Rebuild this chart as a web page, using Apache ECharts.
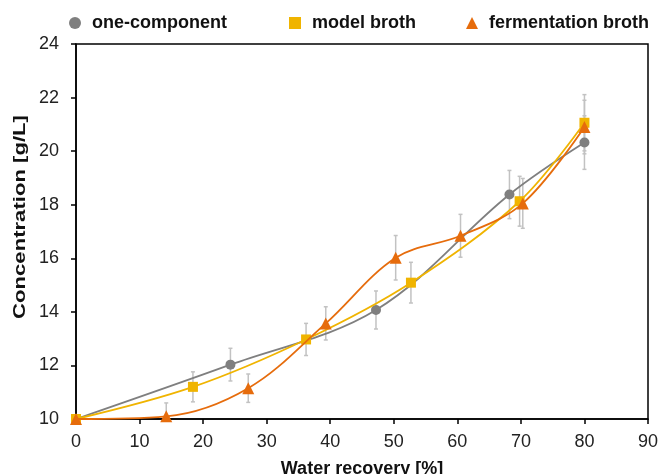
<!DOCTYPE html>
<html>
<head>
<meta charset="utf-8">
<script src="https://cdn.jsdelivr.net/npm/echarts@6/dist/echarts.min.js"></script>
<style>html,body{margin:0;padding:0;background:#fff}#c{width:660px;height:474px}</style>
</head>
<body>
<div id="c"></div>
<script>
// Data
var seriesNames = ['one-component', 'model broth', 'fermentation broth'];
var oneX   = [0, 24.3, 47.2, 68.2, 80];
var oneY   = [10, 12.03, 14.07, 18.38, 20.32];
var oneErr = [0, 0.61, 0.71, 0.9, 1.0];
var modelX   = [0, 18.4, 36.2, 52.7, 69.8, 80];
var modelY   = [10, 11.2, 12.97, 15.09, 18.13, 21.06];
var modelErr = [0, 0.56, 0.6, 0.76, 0.93, 1.05];
var fermX   = [0, 14.2, 27.1, 39.3, 50.3, 60.5, 70.3, 80];
var fermY   = [10, 10.1, 11.15, 13.57, 16.02, 16.84, 18.05, 20.9];
var fermErr = [0, 0.5, 0.53, 0.62, 0.83, 0.8, 0.93, 1.0];
var xTicks = [0, 10, 20, 30, 40, 50, 60, 70, 80, 90];
var yTicks = [10, 12, 14, 16, 18, 20, 22, 24];
var xTitle = 'Water recovery [%]';
var yTitle = 'Concentration [g/L]';

var colors = ['#7f7f7f', '#f0b400', '#e66c0c'];
var symbols = ['circle', 'rect', 'triangle'];
var FONT = 'Liberation Sans, Arial, sans-serif';

function pairs(xs, ys) { return xs.map(function (x, i) { return [x, ys[i]]; }); }
function errData(xs, ys, es) {
  var out = [];
  xs.forEach(function (x, i) { if (es[i] > 0) out.push([x, ys[i] - es[i], ys[i] + es[i]]); });
  return out;
}
function errSeries(data) {
  return {
    type: 'custom', silent: true, z: 1, clip: true,
    encode: { x: 0, y: [1, 2] },
    data: data,
    renderItem: function (params, api) {
      var lo = api.coord([api.value(0), api.value(1)]);
      var hi = api.coord([api.value(0), api.value(2)]);
      var st = { stroke: '#c2c2c2', lineWidth: 1.5 };
      return {
        type: 'group', children: [
          { type: 'line', shape: { x1: lo[0], y1: lo[1], x2: hi[0], y2: hi[1] }, style: st },
          { type: 'line', shape: { x1: lo[0] - 2, y1: lo[1], x2: lo[0] + 2, y2: lo[1] }, style: st },
          { type: 'line', shape: { x1: hi[0] - 2, y1: hi[1], x2: hi[0] + 2, y2: hi[1] }, style: st }
        ]
      };
    }
  };
}
function lineSeries(i, data) {
  return {
    name: seriesNames[i], type: 'line', data: data, smooth: 0.35, z: 3 + i,
    symbol: symbols[i], symbolSize: i === 2 ? 12 : 10,
    lineStyle: { color: colors[i], width: 1.8 },
    itemStyle: { color: colors[i] },
    emphasis: { disabled: true }
  };
}
function legend(i, left) {
  return {
    data: [{ name: seriesNames[i], icon: symbols[i] }], left: left, top: 9,
    itemWidth: 12, itemHeight: 12, itemGap: 0,
    textStyle: { fontFamily: FONT, fontSize: 18, fontWeight: 'bold', color: '#111', padding: [0, 0, 0, 6] },
    selectedMode: false
  };
}

var chart = echarts.init(document.getElementById('c'), null, { renderer: 'canvas' });
chart.setOption({
  animation: false,
  backgroundColor: '#fff',
  color: colors,
  legend: [legend(0, 64), legend(1, 284), legend(2, 461)],
  grid: { left: 76, right: 12, top: 44, bottom: 55, show: true, borderColor: '#000', borderWidth: 1.5,
    containLabel: false, outerBoundsMode: 'none' },
  graphic: [{
    type: 'text', x: 20, y: 217, rotation: Math.PI / 2, scaleX: 1.3, silent: true,
    style: { text: yTitle, align: 'center', verticalAlign: 'middle',
      font: 'bold 17px Liberation Sans, Arial, sans-serif', fill: '#111' }
  }],
  xAxis: {
    type: 'value', min: 0, max: 90, interval: 10,
    name: xTitle, nameLocation: 'middle', nameGap: 41,
    nameTextStyle: { fontFamily: FONT, fontSize: 18, fontWeight: 'bold', color: '#111' },
    axisLine: { show: true, lineStyle: { color: '#000', width: 1.5 } },
    axisTick: { show: true, length: 5, lineStyle: { color: '#000', width: 1.5 } },
    axisLabel: { fontFamily: FONT, fontSize: 18, color: '#222', margin: 14,
      formatter: function (v) { return xTicks.indexOf(v) >= 0 ? String(v) : ''; } },
    splitLine: { show: false }
  },
  yAxis: {
    type: 'value', min: 10, max: 24, interval: 2,
    axisLine: { show: true, lineStyle: { color: '#000', width: 1.5 } },
    axisTick: { show: true, length: 5, lineStyle: { color: '#000', width: 1.5 } },
    axisLabel: { fontFamily: FONT, fontSize: 18, color: '#222', margin: 17,
      formatter: function (v) { return yTicks.indexOf(v) >= 0 ? String(v) : ''; } },
    splitLine: { show: false }
  },
  series: [
    errSeries(errData(oneX, oneY, oneErr)),
    errSeries(errData(modelX, modelY, modelErr)),
    errSeries(errData(fermX, fermY, fermErr)),
    lineSeries(0, pairs(oneX, oneY)),
    lineSeries(1, pairs(modelX, modelY)),
    lineSeries(2, pairs(fermX, fermY))
  ]
});
</script>
</body>
</html>
